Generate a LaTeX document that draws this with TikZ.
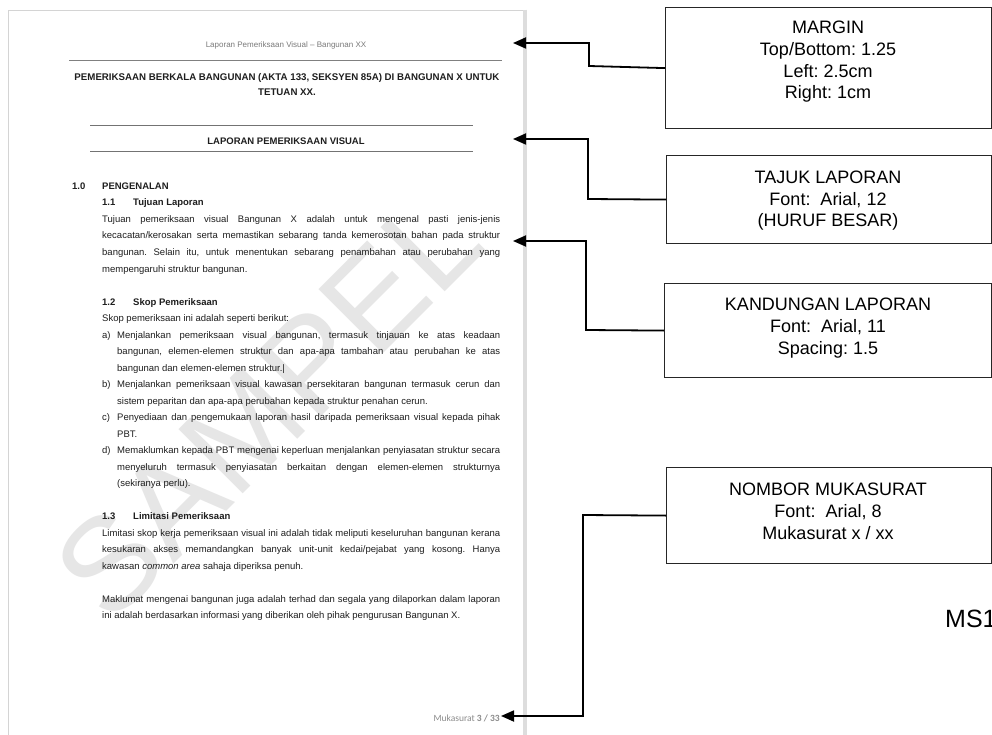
\documentclass[tikz,border=0pt]{standalone}
\usepackage{fontspec}
\setmainfont{Liberation Sans}
\newfontfamily\carl{Carlito}
\usetikzlibrary{arrows.meta}
\definecolor{txt}{HTML}{1E1E1E}
\definecolor{hdr}{HTML}{7A7A7A}
\definecolor{pageedge}{HTML}{D4D4D4}
\definecolor{wmark}{HTML}{E6E6E6}
\frenchspacing
\begin{document}
\begin{tikzpicture}[x=1pt,y=-1pt,
  doc/.style={anchor=base west, inner sep=0pt, text=txt, font=\fontsize{9.5}{11}\selectfont},
  docb/.style={doc, font=\fontsize{9.5}{11}\selectfont\bfseries},
  ttl/.style={anchor=base, inner sep=0pt, text=txt, font=\fontsize{9.7}{11}\selectfont\bfseries},
  rulegray/.style={draw=black!55, line width=1.1pt},
  box/.style={draw=black!85, line width=1.2pt, anchor=north west, inner sep=0pt},
  boxtxt/.style={inner sep=0pt, anchor=base, font=\fontsize{18}{21}\selectfont},
  conn/.style={draw=black, line width=1.8pt, -{Triangle[length=13pt,width=11pt]}},
]
\useasboundingbox (0,0) rectangle (992,735);
\fill[white] (0,0) rectangle (992,735);

% page frame
\draw[pageedge, line width=1.5pt] (8.5,745) -- (8.5,10.5) -- (525,10.5);
\draw[pageedge!80, line width=3.5pt] (525,9.75) -- (525,745);

% watermark
\node[rotate=45, text=wmark, inner sep=0pt, font=\fontsize{132}{132}\selectfont] (wm) at (268,405) {SAMPEL};

% header
\node[anchor=base, inner sep=0pt, text=hdr, font=\fontsize{8}{9}\selectfont] (hdrtxt) at (286,48) {Laporan Pemeriksaan Visual -- Bangunan XX};
\draw[draw=black!50, line width=0.9pt] (69,60) -- (502,60);

% title
\node[ttl] (t1) at (287,80.2) {PEMERIKSAAN BERKALA BANGUNAN (AKTA 133, SEKSYEN 85A) DI BANGUNAN X UNTUK};
\node[ttl] (t2) at (287,95.2) {TETUAN XX.};
\draw[rulegray] (90,125.7) -- (473,125.7);
\node[ttl, font=\fontsize{9.5}{11}\selectfont\bfseries] (t3) at (286,145) {LAPORAN PEMERIKSAAN VISUAL};
\draw[rulegray] (90,151.5) -- (473,151.5);

% section 1.0
\node[docb] (n10) at (72,189.5) {1.0};
\node[docb] (h10) at (102,189.5) {PENGENALAN};
\node[docb] (n11) at (102,206) {1.1};
\node[docb] (h11) at (133,206) {Tujuan Laporan};
\node[doc] (p1) at (102,222.5) {\makebox[398pt][s]{Tujuan pemeriksaan visual Bangunan X adalah untuk mengenal pasti jenis-jenis}};
\node[doc] (p2) at (102,239) {\makebox[398pt][s]{kecacatan/kerosakan serta memastikan sebarang tanda kemerosotan bahan pada struktur}};
\node[doc] (p3) at (102,255.5) {\makebox[398pt][s]{bangunan. Selain itu, untuk menentukan sebarang penambahan atau perubahan yang}};
\node[doc] (p4) at (102,272) {mempengaruhi struktur bangunan.};

% 1.2
\node[docb] (n12) at (102,305) {1.2};
\node[docb] (h12) at (133,305) {Skop Pemeriksaan};
\node[doc] (s0) at (102,321.5) {Skop pemeriksaan ini adalah seperti berikut:};
\node[doc] (la) at (102,338) {a)};
\node[doc] (a1) at (117,338) {\makebox[383pt][s]{Menjalankan pemeriksaan visual bangunan, termasuk tinjauan ke atas keadaan}};
\node[doc] (a2) at (117,354.5) {\makebox[383pt][s]{bangunan, elemen-elemen struktur dan apa-apa tambahan atau perubahan ke atas}};
\node[doc] (a3) at (117,371) {bangunan dan elemen-elemen struktur.|};
\node[doc] (lb) at (102,387.5) {b)};
\node[doc] (b1) at (117,387.5) {\makebox[383pt][s]{Menjalankan pemeriksaan visual kawasan persekitaran bangunan termasuk cerun dan}};
\node[doc] (b2) at (117,404) {sistem peparitan dan apa-apa perubahan kepada struktur penahan cerun.};
\node[doc] (lc) at (102,420.5) {c)};
\node[doc] (c1) at (117,420.5) {\makebox[383pt][s]{Penyediaan dan pengemukaan laporan hasil daripada pemeriksaan visual kepada pihak}};
\node[doc] (c2) at (117,437) {PBT.};
\node[doc] (ld) at (102,453.5) {d)};
\node[doc] (d1) at (117,453.5) {\makebox[383pt][s]{Memaklumkan kepada PBT mengenai keperluan menjalankan penyiasatan struktur secara}};
\node[doc] (d2) at (117,470) {\makebox[383pt][s]{menyeluruh termasuk penyiasatan berkaitan dengan elemen-elemen strukturnya}};
\node[doc] (d3) at (117,486.5) {(sekiranya perlu).};

% 1.3
\node[docb] (n13) at (102,519.5) {1.3};
\node[docb] (h13) at (133,519.5) {Limitasi Pemeriksaan};
\node[doc] (q1) at (102,536) {\makebox[398pt][s]{Limitasi skop kerja pemeriksaan visual ini adalah tidak meliputi keseluruhan bangunan kerana}};
\node[doc] (q2) at (102,552.5) {\makebox[398pt][s]{kesukaran akses memandangkan banyak unit-unit kedai/pejabat yang kosong. Hanya}};
\node[doc] (q3) at (102,569) {kawasan \textit{common area} sahaja diperiksa penuh.};
\node[doc] (r1) at (102,602) {\makebox[398pt][s]{Maklumat mengenai bangunan juga adalah terhad dan segala yang dilaporkan dalam laporan}};
\node[doc] (r2) at (102,618.5) {ini adalah berdasarkan informasi yang diberikan oleh pihak pengurusan Bangunan X.};

% page number
\node[anchor=base east, inner sep=0pt, text=black!45, font=\carl\fontsize{9.5}{11}\selectfont] (pg) at (500,721.5) {Mukasurat \textbf{3 / 33}};

% right-hand boxes
\node[box, minimum width=326pt, minimum height=121pt] (bm) at (665,7) {};
\node[boxtxt] (bm1) at (828,34) {MARGIN};
\node[boxtxt] (bm2) at (828,56) {Top/Bottom: 1.25};
\node[boxtxt] (bm3) at (828,77.5) {Left: 2.5cm};
\node[boxtxt] (bm4) at (828,99) {Right: 1cm};

\node[box, minimum width=325pt, minimum height=88pt] (bt) at (666,155) {};
\node[boxtxt] (bt1) at (828,184) {TAJUK LAPORAN};
\node[boxtxt] (bt2) at (828,205.5) {Font:\ \ Arial, 12};
\node[boxtxt] (bt3) at (828,226.5) {(HURUF BESAR)};

\node[box, minimum width=327pt, minimum height=94pt] (bk) at (664,283) {};
\node[boxtxt] (bk1) at (828,310.5) {KANDUNGAN LAPORAN};
\node[boxtxt] (bk2) at (828,332) {Font:\ \ Arial, 11};
\node[boxtxt] (bk3) at (828,354) {Spacing: 1.5};

\node[box, minimum width=325pt, minimum height=96pt] (bn) at (666,467) {};
\node[boxtxt] (bn1) at (828,495.5) {NOMBOR MUKASURAT};
\node[boxtxt] (bn2) at (828,517) {Font:\ \ Arial, 8};
\node[boxtxt] (bn3) at (828,539) {Mukasurat x / xx};

\node[anchor=base west, inner sep=0pt, font=\fontsize{25}{28}\selectfont] (ms) at (945,627) {MS1};

% connectors
\coordinate (tm) at (513,43);
\coordinate (tt) at (513,139);
\coordinate (tk) at (513,241);
\coordinate (tn) at (501,716);
\draw[conn] (bm.west) -- (589,66) |- (tm);
\draw[conn] (bt.west) -- (588,199) |- (tt);
\draw[conn] (bk.west) -- (586,330) |- (tk);
\draw[conn] (bn.west) -- (583,515) |- (tn);
\end{tikzpicture}
\end{document}
